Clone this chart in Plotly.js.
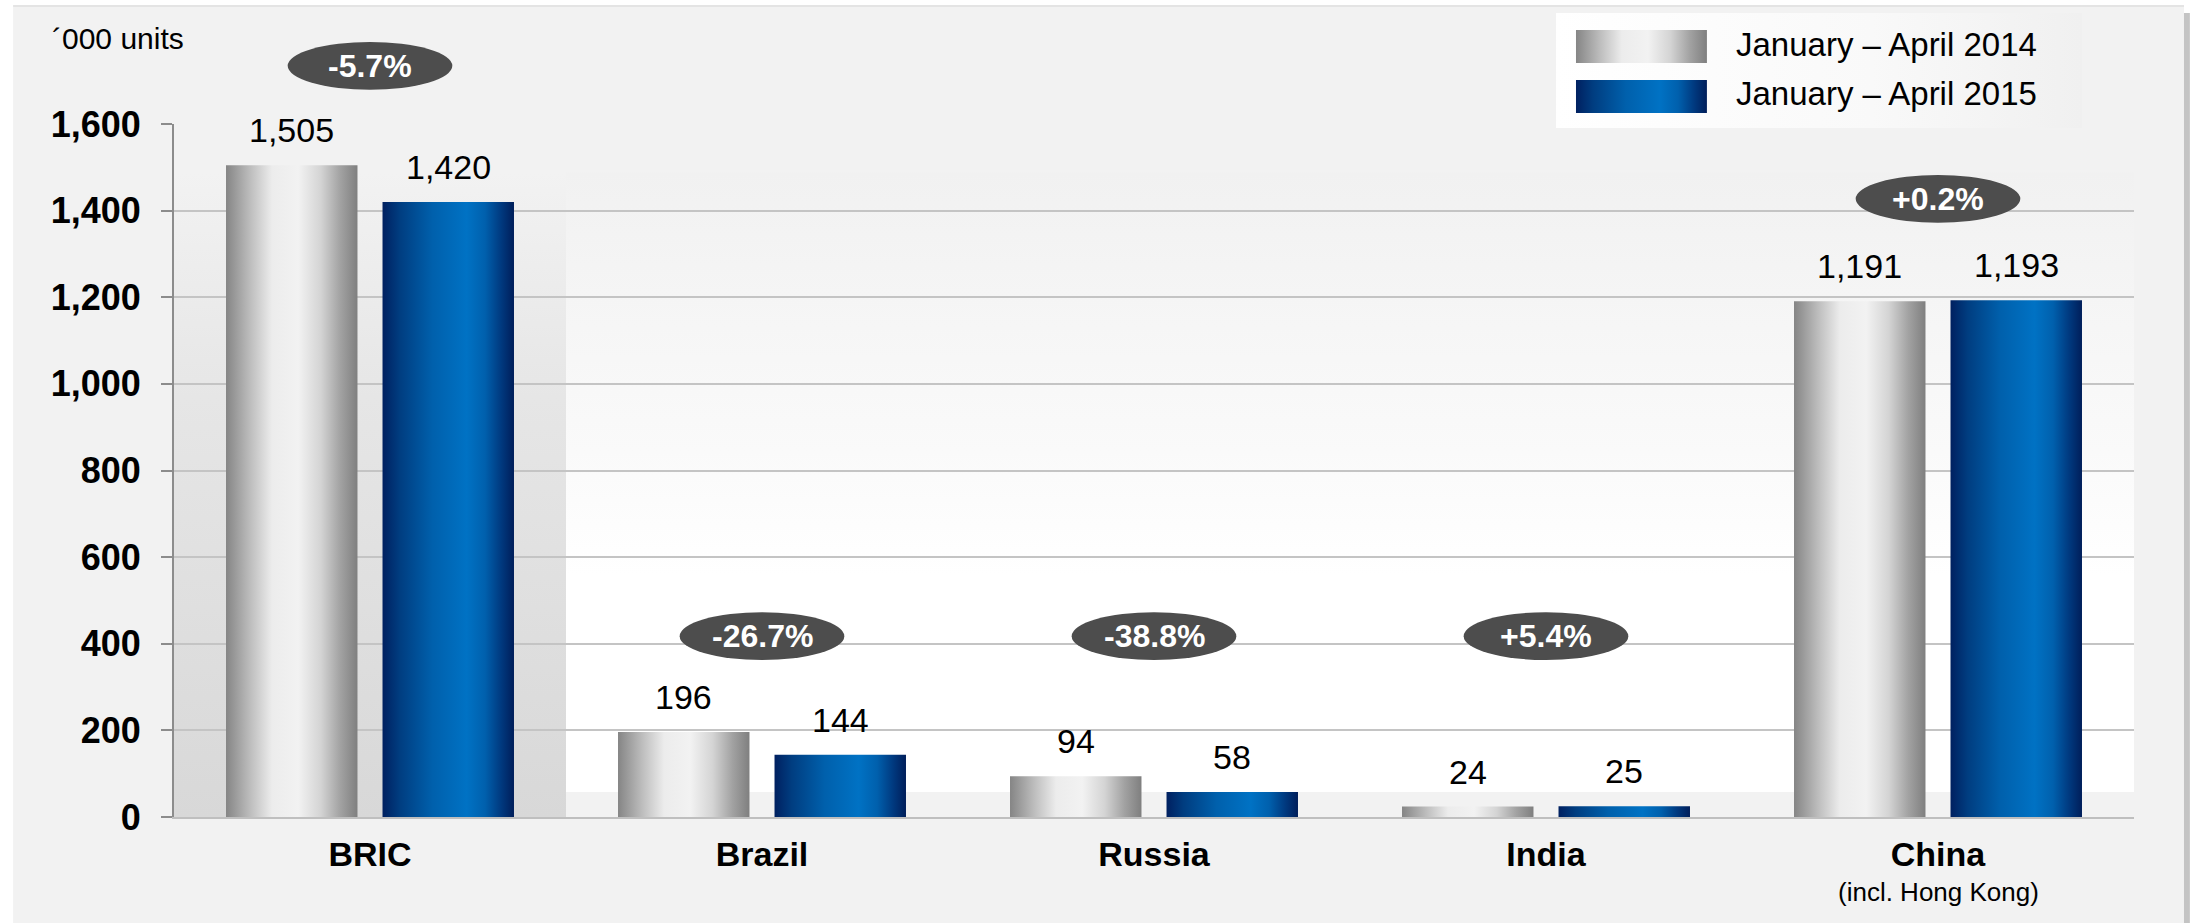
<!DOCTYPE html>
<html>
<head>
<meta charset="utf-8">
<script src="https://cdn.plot.ly/plotly-3.0.1.min.js"></script>
<style>
  html, body { margin: 0; padding: 0; background: #ffffff; }
  #chart { width: 2203px; height: 923px; }
</style>
</head>
<body>
<div id="chart"></div>
<script>
// ---------------- data ----------------
const categories = ['BRIC', 'Brazil', 'Russia', 'India', 'China'];
const categoryTickLabels = ['<b>BRIC</b>', '<b>Brazil</b>', '<b>Russia</b>', '<b>India</b>', '<b>China</b>'];
const categorySubLabels = ['', '', '', '', '(incl. Hong Kong)'];
const seriesNames = ['January \u2013 April 2014', 'January \u2013 April 2015'];
const values2014 = [1505, 196, 94, 24, 1191];
const values2015 = [1420, 144, 58, 25, 1193];
const changeLabels = ['-5.7%', '-26.7%', '-38.8%', '+5.4%', '+0.2%'];
const yTickValues = [0, 200, 400, 600, 800, 1000, 1200, 1400, 1600];
const unitLabel = '\u00B4000 units';

// ---------------- layout config ----------------
const FONT = 'Arial, "Liberation Sans", sans-serif';
const BARGAP = 0.2015;
const BARGROUPGAP = 0.16;
// vertical centre of each change badge, in paper units
const badgeCenterY = [1.084, 0.261, 0.261, 0.261, 0.892];
const badgeHalfW = 0.21, badgeHalfH = 0.0345;

const allSeries = [values2014, values2015];

const traces = allSeries.map((vals, k) => ({
  type: 'bar',
  name: seriesNames[k],
  x: categories,
  y: vals,
  marker: { color: k === 0 ? '#c8c8c8' : '#005aa8', line: { width: 0 } },
  hoverinfo: 'x+y+name',
  showlegend: false
}));

const shapes = [];
const annotations = [];

// outer panel + right shadow
shapes.push({ type: 'rect', xref: 'paper', yref: 'paper', x0: -0.0821, x1: 1.0255, y0: -0.2, y1: 1.1688,
  fillcolor: '#f2f2f2', line: { width: 0 }, layer: 'below' });
shapes.push({ type: 'rect', xref: 'paper', yref: 'paper', x0: 1.0255, x1: 1.0285, y0: -0.2, y1: 1.1600,
  fillcolor: '#c4c4c4', line: { width: 0 }, layer: 'below' });
shapes.push({ type: 'rect', xref: 'paper', yref: 'paper', x0: -0.0821, x1: 1.0255, y0: 1.1688, y1: 1.1718,
  fillcolor: '#e4e4e4', line: { width: 0 }, layer: 'below' });
// BRIC highlight panel (gradient applied later)
const idxBricPanel = shapes.length;
shapes.push({ type: 'rect', xref: 'x', yref: 'paper', x0: -0.5, x1: 0.5, y0: 0, y1: 0.93,
  fillcolor: '#e2e2e2', line: { width: 0 }, layer: 'below' });
// white area for the countries (gradient applied later)
const idxWhitePanel = shapes.length;
shapes.push({ type: 'rect', xref: 'x', yref: 'paper', x0: 0.5, x1: 4.518, y0: 0.036, y1: 0.93,
  fillcolor: '#fbfbfb', line: { width: 0 }, layer: 'below' });

// change badges
changeLabels.forEach((lab, i) => {
  shapes.push({ type: 'circle', xref: 'x', yref: 'paper',
    x0: i - badgeHalfW, x1: i + badgeHalfW,
    y0: badgeCenterY[i] - badgeHalfH, y1: badgeCenterY[i] + badgeHalfH,
    fillcolor: '#4d4d4d', line: { width: 0 }, layer: 'above' });
  annotations.push({ xref: 'x', yref: 'paper', x: i, y: badgeCenterY[i],
    text: '<b>' + lab + '</b>', showarrow: false,
    font: { family: FONT, size: 32, color: '#ffffff' }, xanchor: 'center', yanchor: 'middle' });
});

// value labels above bars
const halfSlot = (1 - BARGAP) / 4;
allSeries.forEach((vals, k) => {
  vals.forEach((v, i) => {
    annotations.push({ xref: 'x', yref: 'y', x: i + (k === 0 ? -halfSlot : halfSlot), y: v,
      text: v.toLocaleString('en-US'), showarrow: false, yanchor: 'bottom', yshift: 14,
      font: { family: FONT, size: 34, color: '#000000' } });
  });
});

// category sub-labels
categorySubLabels.forEach((s, i) => {
  if (!s) return;
  annotations.push({ xref: 'x', yref: 'paper', x: i, y: -0.108, xanchor: 'center', yanchor: 'middle',
    text: s, showarrow: false, font: { family: FONT, size: 26, color: '#000000' } });
});

// unit label
annotations.push({ xref: 'paper', yref: 'paper', x: -0.0633, y: 1.124, xanchor: 'left', yanchor: 'middle',
  text: unitLabel, showarrow: false, font: { family: FONT, size: 30, color: '#000000' } });

// custom legend
const idxLegendBox = shapes.length;
shapes.push({ type: 'rect', xref: 'paper', yref: 'paper', x0: 0.7051, x1: 0.9735, y0: 0.9942, y1: 1.1602,
  fillcolor: '#ffffff', line: { width: 0 }, layer: 'above' });
const legendSwatchY = [[1.0880, 1.1356], [1.0159, 1.0635]];
const legendTextY = [1.1140, 1.0447];
const idxLegendSwatch = [];
seriesNames.forEach((nm, k) => {
  idxLegendSwatch.push(shapes.length);
  shapes.push({ type: 'rect', xref: 'paper', yref: 'paper', x0: 0.7153, x1: 0.7821,
    y0: legendSwatchY[k][0], y1: legendSwatchY[k][1],
    fillcolor: k === 0 ? '#c8c8c8' : '#005aa8', line: { width: 0 }, layer: 'above' });
  annotations.push({ xref: 'paper', yref: 'paper', x: 0.7960, y: legendTextY[k], xanchor: 'left', yanchor: 'middle',
    text: nm, showarrow: false, font: { family: FONT, size: 33, color: '#000000' } });
});

const layout = {
  width: 2203, height: 923,
  margin: { l: 174, r: 69, t: 124, b: 106, pad: 0 },
  paper_bgcolor: '#ffffff',
  plot_bgcolor: 'rgba(0,0,0,0)',
  font: { family: FONT, color: '#000000' },
  barmode: 'group',
  bargap: BARGAP,
  bargroupgap: BARGROUPGAP,
  showlegend: false,
  xaxis: {
    type: 'category',
    tickmode: 'array', tickvals: categories, ticktext: categoryTickLabels,
    tickfont: { family: FONT, size: 34, color: '#000000' },
    ticklabelstandoff: 6,
    showline: true, linecolor: '#bfbfbf', linewidth: 2,
    ticks: '', showgrid: false, zeroline: false,
    range: [-0.5, 4.5], fixedrange: true, automargin: false
  },
  yaxis: {
    range: [0, 1600],
    tickmode: 'array', tickvals: yTickValues, tickformat: ',d',
    tickfont: { family: FONT, size: 36, color: '#000000', weight: 'bold' },
    ticks: 'outside', ticklen: 11, tickwidth: 2, tickcolor: '#8c8c8c',
    ticklabelstandoff: 13,
    showline: true, linecolor: '#8c8c8c', linewidth: 2,
    showgrid: true, gridcolor: '#c4c4c4', gridwidth: 2,
    zeroline: false, fixedrange: true, automargin: false
  },
  shapes: shapes,
  annotations: annotations
};

function addGradient(defs, id, stops, vertical) {
  const ns = 'http://www.w3.org/2000/svg';
  const g = document.createElementNS(ns, 'linearGradient');
  g.setAttribute('id', id);
  g.setAttribute('x1', '0'); g.setAttribute('y1', '0');
  g.setAttribute('x2', vertical ? '0' : '1'); g.setAttribute('y2', vertical ? '1' : '0');
  stops.forEach(s => {
    const st = document.createElementNS(ns, 'stop');
    st.setAttribute('offset', s[0]);
    st.setAttribute('stop-color', s[1]);
    g.appendChild(st);
  });
  defs.appendChild(g);
}

const GRAY_STOPS = [[0, '#858585'], [0.18, '#bcbcbc'], [0.35, '#ececec'], [0.55, '#f2f2f2'], [0.72, '#d4d4d4'], [0.87, '#a2a2a2'], [1, '#7f7f7f']];
const BLUE_STOPS = [[0, '#002060'], [0.13, '#003d80'], [0.38, '#0060ac'], [0.64, '#0072c4'], [0.78, '#0060ad'], [0.9, '#003a80'], [1, '#001e5a']];

const gd = document.getElementById('chart');
Plotly.newPlot(gd, traces, layout, { staticPlot: true, displayModeBar: false }).then(() => {
  const svg = gd.querySelector('svg.main-svg');
  let defs = svg.querySelector('defs');
  if (!defs) { defs = document.createElementNS('http://www.w3.org/2000/svg', 'defs'); svg.insertBefore(defs, svg.firstChild); }
  addGradient(defs, 'gradGray', GRAY_STOPS, false);
  addGradient(defs, 'gradBlue', BLUE_STOPS, false);
  addGradient(defs, 'gradBric', [[0, '#f2f2f2'], [0.35, '#e6e6e6'], [1, '#d8d8d8']], true);
  addGradient(defs, 'gradWhite', [[0, '#f1f1f1'], [0.45, '#fafafa'], [0.65, '#ffffff'], [1, '#ffffff']], true);
  addGradient(defs, 'gradLegend', [[0, '#ffffff'], [0.6, '#f9f9f9'], [1, '#f0f0f0']], false);

  const barTraces = gd.querySelectorAll('.barlayer .trace');
  barTraces.forEach((t, k) => {
    t.querySelectorAll('path').forEach(p => { p.style.fill = k === 0 ? 'url(#gradGray)' : 'url(#gradBlue)'; });
  });
  const fillFor = {};
  fillFor[idxBricPanel] = 'url(#gradBric)';
  fillFor[idxWhitePanel] = 'url(#gradWhite)';
  fillFor[idxLegendBox] = 'url(#gradLegend)';
  fillFor[idxLegendSwatch[0]] = 'url(#gradGray)';
  fillFor[idxLegendSwatch[1]] = 'url(#gradBlue)';
  gd.querySelectorAll('.shapelayer path').forEach(p => {
    const di = p.getAttribute('data-index');
    if (di !== null && fillFor[+di]) p.style.fill = fillFor[+di];
  });
});
</script>
</body>
</html>
